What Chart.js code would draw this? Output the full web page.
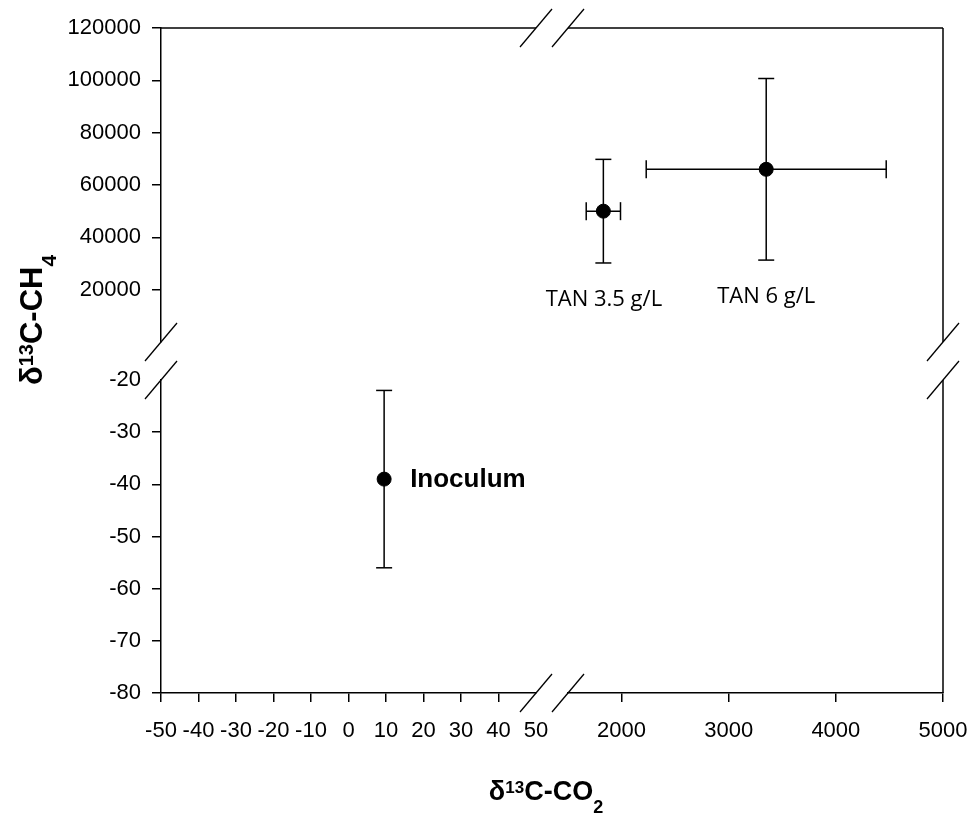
<!DOCTYPE html>
<html>
<head>
<meta charset="utf-8">
<script src="https://cdn.jsdelivr.net/npm/chart.js@4.4.1/dist/chart.umd.min.js"></script>
<style>
  html, body { margin: 0; padding: 0; background: #fff; }
  #wrap { width: 972px; height: 814px; }
</style>
</head>
<body>
<div id="wrap"><canvas id="chart" width="972" height="814"></canvas></div>
<script>
// TAN runs - upper right part of the broken axes
const tanNames = ['TAN 3.5 g/L', 'TAN 6 g/L'];
const tanCO2 = [1830, 3350];
const tanCO2Err = [160, 1120];
const tanCH4 = [50000, 66000];
const tanCH4Err = [19800, 34700];

// inoculum - lower left part
const inocNames = ['Inoculum'];
const inocCO2 = [9.5];
const inocCO2Err = [0];
const inocCH4 = [-39];
const inocCH4Err = [17];

// tick labels
const xLowTicks = [-50, -40, -30, -20, -10, 0, 10, 20, 30, 40, 50];
const xHighTicks = [2000, 3000, 4000, 5000];
const yLowTicks = [-80, -70, -60, -50, -40, -30, -20];
const yHighTicks = [20000, 40000, 60000, 80000, 100000, 120000];

const SANS = '"Liberation Sans", Arial, sans-serif';

// where the TAN labels sit (data units of the upper panel)
const tanLabelPos = [{ x: 1835, y: 16000 }, { x: 3350, y: 17300 }];

function setTicks(values) {
    return function(scale) {
        scale.ticks = values.map(v => ({ value: v }));
    };
}

// tick marks hidden where the break slash sits
function tickColor(hidden) {
    return function(ctx) {
        return (ctx.tick && ctx.tick.value === hidden) ? 'rgba(0,0,0,0)' : '#000';
    };
}

function axis(extra) {
    const base = {
        type: 'linear',
        border: { display: true, color: '#000', width: 1.5 },
        grid: { display: true, drawOnChartArea: false, drawTicks: true, tickLength: 9, color: '#000', lineWidth: 1.5 },
        ticks: {
            color: '#000',
            font: { family: SANS, size: 22 },
            autoSkip: false,
            maxRotation: 0,
            padding: 11,
            callback: v => String(v)
        }
    };
    const out = Object.assign({}, base, extra);
    if (extra.grid) out.grid = Object.assign({}, base.grid, extra.grid);
    if (extra.ticks) out.ticks = Object.assign({}, base.ticks, extra.ticks);
    return out;
}

// empty scale used only to leave the gap of the break
function gapAxis(extra) {
    return Object.assign({
        type: 'linear',
        display: true,
        border: { display: false },
        grid: { display: false, drawTicks: false },
        ticks: { display: false }
    }, extra);
}

// fixed axis sizes so the plot area lands where the original one is
const fitBottom = s => { s.height = 121; s.paddingLeft = 0; s.paddingRight = 0; };
const fitLeft = s => { s.width = 161; s.paddingTop = 0; s.paddingBottom = 0; };

const line = (ctx, x1, y1, x2, y2) => {
    ctx.beginPath();
    ctx.moveTo(x1, y1);
    ctx.lineTo(x2, y2);
    ctx.stroke();
};

// frame on top/right plus the // marks
const breakPlugin = {
    id: 'breaks',
    afterDraw(chart) {
        const { ctx, chartArea: a, scales } = chart;
        const xg = scales.xG, yg = scales.yG;
        ctx.save();
        ctx.strokeStyle = '#000';
        ctx.lineWidth = 1.5;
        line(ctx, a.left, a.top, xg.left, a.top);
        line(ctx, xg.right, a.top, a.right, a.top);
        line(ctx, a.right, a.top, a.right, yg.top);
        line(ctx, a.right, yg.bottom, a.right, a.bottom);
        const marks = [
            [xg.left, a.top], [xg.right, a.top], [xg.left, a.bottom], [xg.right, a.bottom],
            [a.left, yg.top], [a.left, yg.bottom], [a.right, yg.top], [a.right, yg.bottom]
        ];
        ctx.lineWidth = 1.3;
        marks.forEach(([x, y]) => line(ctx, x - 16, y + 19, x + 16, y - 19));
        ctx.restore();
    }
};

const errorBars = {
    id: 'errorBars',
    beforeDatasetsDraw(chart) {
        const ctx = chart.ctx;
        ctx.save();
        ctx.strokeStyle = '#000';
        ctx.lineWidth = 1.5;
        chart.data.datasets.forEach(ds => {
            const xs = chart.scales[ds.xAxisID], ys = chart.scales[ds.yAxisID];
            ds.data.forEach((p, j) => {
                const px = xs.getPixelForValue(p.x), py = ys.getPixelForValue(p.y);
                const ex = ds.errX[j], ey = ds.errY[j];
                if (ey) {
                    const t = ys.getPixelForValue(p.y + ey), b = ys.getPixelForValue(p.y - ey);
                    line(ctx, px, t, px, b);
                    line(ctx, px - 8, t, px + 8, t);
                    line(ctx, px - 8, b, px + 8, b);
                }
                if (ex) {
                    const l = xs.getPixelForValue(p.x - ex), r = xs.getPixelForValue(p.x + ex);
                    line(ctx, l, py, r, py);
                    line(ctx, l, py - 9, l, py + 9);
                    line(ctx, r, py - 9, r, py + 9);
                }
            });
        });
        ctx.restore();
    }
};

const pointLabels = {
    id: 'pointLabels',
    afterDatasetsDraw(chart) {
        const ctx = chart.ctx;
        const xs = chart.scales.xR, ys = chart.scales.yU;
        ctx.save();
        ctx.fillStyle = '#000';
        ctx.font = '22px "Open Sans", sans-serif';
        ctx.textAlign = 'center';
        ctx.textBaseline = 'middle';
        tanNames.forEach((name, i) => {
            ctx.fillText(name, xs.getPixelForValue(tanLabelPos[i].x), ys.getPixelForValue(tanLabelPos[i].y));
        });
        const xl = chart.scales.xL, yl = chart.scales.yD;
        ctx.font = 'bold 26px ' + SANS;
        ctx.textAlign = 'left';
        inocNames.forEach((name, i) => {
            ctx.fillText(name, xl.getPixelForValue(inocCO2[i]) + 26, yl.getPixelForValue(inocCH4[i]) + 1);
        });
        ctx.restore();
    }
};

// axis titles with super/subscripts
function richText(ctx, parts, cx, baseY) {
    let w = 0;
    parts.forEach(p => {
        ctx.font = 'bold ' + p.size + 'px ' + SANS;
        p.w = ctx.measureText(p.t).width;
        w += p.w;
    });
    let x = cx - w / 2;
    ctx.textAlign = 'left';
    ctx.textBaseline = 'alphabetic';
    parts.forEach(p => {
        ctx.font = 'bold ' + p.size + 'px ' + SANS;
        ctx.fillText(p.t, x, baseY + (p.dy || 0));
        x += p.w;
    });
}

const axisTitles = {
    id: 'axisTitles',
    afterDraw(chart) {
        const ctx = chart.ctx;
        ctx.save();
        ctx.fillStyle = '#000';
        richText(ctx, [
            { t: 'δ', size: 27 },
            { t: '13', size: 17, dy: -7 },
            { t: 'C-CO', size: 27 },
            { t: '2', size: 18, dy: 13 }
        ], 546, 800);
        ctx.translate(42, 320);
        ctx.rotate(-Math.PI / 2);
        richText(ctx, [
            { t: 'δ', size: 31 },
            { t: '13', size: 20, dy: -9 },
            { t: 'C-CH', size: 31 },
            { t: '4', size: 21, dy: 14 }
        ], 0, 0);
        ctx.restore();
    }
};

const toPoints = (xs, ys) => xs.map((x, i) => ({ x: x, y: ys[i] }));

new Chart(document.getElementById('chart'), {
    type: 'scatter',
    data: {
        datasets: [
            {
                label: 'TAN',
                data: toPoints(tanCO2, tanCH4),
                errX: tanCO2Err,
                errY: tanCH4Err,
                xAxisID: 'xR',
                yAxisID: 'yU',
                backgroundColor: '#000',
                borderColor: '#000',
                pointRadius: 7,
                pointHoverRadius: 7
            },
            {
                label: 'Inoculum',
                data: toPoints(inocCO2, inocCH4),
                errX: inocCO2Err,
                errY: inocCH4Err,
                xAxisID: 'xL',
                yAxisID: 'yD',
                backgroundColor: '#000',
                borderColor: '#000',
                pointRadius: 7,
                pointHoverRadius: 7
            }
        ]
    },
    options: {
        responsive: false,
        animation: false,
        devicePixelRatio: 1,
        layout: { padding: { top: 28, right: 29, bottom: 0, left: 0 } },
        plugins: {
            legend: { display: false },
            tooltip: { enabled: false }
        },
        scales: {
            xL: axis({
                position: 'bottom', stack: 'x', stackWeight: 375, weight: 1,
                min: -50, max: 50,
                afterBuildTicks: setTicks(xLowTicks), afterFit: fitBottom,
                grid: { color: tickColor(50) },
                ticks: { padding: 16 }
            }),
            xG: gapAxis({ position: 'bottom', stack: 'x', stackWeight: 32, weight: 2, afterFit: fitBottom }),
            xR: axis({
                position: 'bottom', stack: 'x', stackWeight: 375, weight: 3,
                min: 1500, max: 5000,
                afterBuildTicks: setTicks(xHighTicks), afterFit: fitBottom,
                ticks: { padding: 16 }
            }),
            yU: axis({
                position: 'left', stack: 'y', stackWeight: 314, weight: 3,
                min: 0, max: 120000,
                afterBuildTicks: setTicks(yHighTicks), afterFit: fitLeft
            }),
            yG: gapAxis({ position: 'left', stack: 'y', stackWeight: 38, weight: 2, afterFit: fitLeft }),
            yD: axis({
                position: 'left', stack: 'y', stackWeight: 313, weight: 1,
                min: -80, max: -20,
                afterBuildTicks: setTicks(yLowTicks), afterFit: fitLeft,
                grid: { color: tickColor(-20) }
            })
        }
    },
    plugins: [errorBars, pointLabels, breakPlugin, axisTitles]
});
</script>
</body>
</html>
